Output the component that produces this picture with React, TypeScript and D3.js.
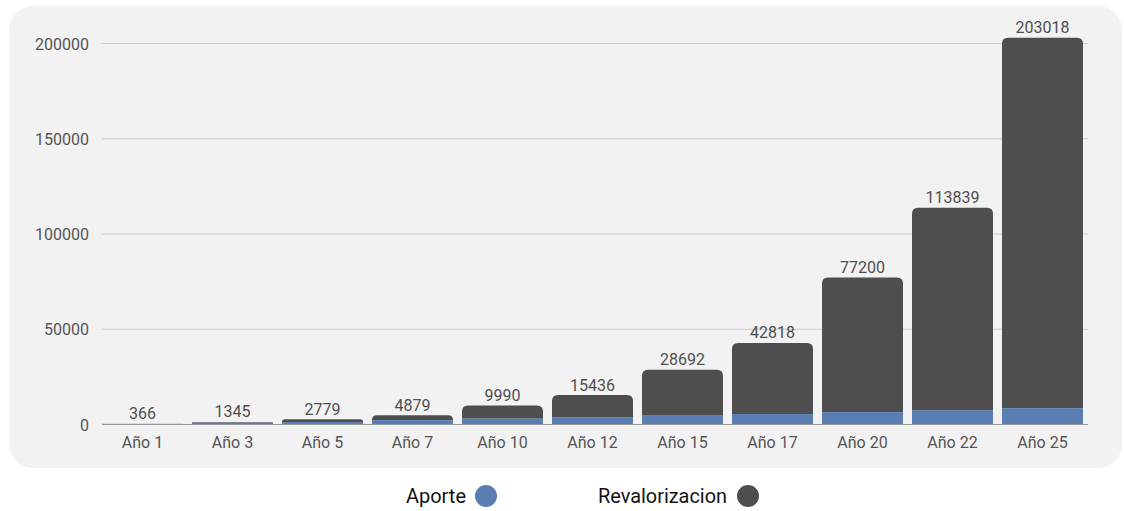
import React from "react";
import * as d3 from "d3";

const categories = ["Año 1", "Año 3", "Año 5", "Año 7", "Año 10", "Año 12", "Año 15", "Año 17", "Año 20", "Año 22", "Año 25"];
const totals = [366, 1345, 2779, 4879, 9990, 15436, 28692, 42818, 77200, 113839, 203018];
const aporte = [360, 1000, 1300, 2300, 3200, 3800, 4900, 5500, 6500, 7500, 8600];
const yTicks = [0, 50000, 100000, 150000, 200000];
const seriesNames = ["Aporte", "Revalorizacion"];
const colors = ["#5a7db2", "#4e4e4e"];

const W = 1124, H = 511;

export default function App() {
  const x = d3.scaleBand<string>().domain(categories).range([97.5, 1087.5]).paddingInner(0.1).paddingOuter(0.05);
  const y = d3.scaleLinear().domain([0, 200000]).range([424.5, 43.5]);
  const font = "Roboto, 'Noto Sans', sans-serif";
  const r = 6;

  const topPath = (x0: number, w: number, yTop: number, yBot: number) => {
    const h = yBot - yTop;
    const rr = Math.max(0, Math.min(r, h, w / 2));
    return `M${x0},${yBot}V${yTop + rr}Q${x0},${yTop} ${x0 + rr},${yTop}H${x0 + w - rr}Q${x0 + w},${yTop} ${x0 + w},${yTop + rr}V${yBot}Z`;
  };

  return (
    <svg width={W} height={H} style={{ position: "absolute", left: 0, top: 0 }} fontFamily={font}>
      <rect x={0} y={0} width={W} height={H} fill="#ffffff" />
      <rect x={9} y={6} width={1113} height={462} rx={24} fill="#f2f2f2" />
      {yTicks.map((t) => (
        <g key={t}>
          {t !== 0 && <line x1={102} x2={1088} y1={y(t)} y2={y(t)} stroke="#cccccc" strokeWidth={1} />}
          <text x={89} y={y(t) + 6} textAnchor="end" fontSize={16} fill="#555555">{t}</text>
        </g>
      ))}
      {categories.map((c, i) => {
        const x0 = x(c)!;
        const w = x.bandwidth();
        const yA = y(aporte[i]);
        const yT = y(totals[i]);
        return (
          <g key={c}>
            <rect x={x0} y={yA} width={w} height={y(0) - yA} fill={colors[0]} />
            <path d={topPath(x0, w, yT, yA)} fill={colors[1]} />
            <text x={x0 + w / 2} y={yT - 4.5} textAnchor="middle" fontSize={16} fill="#4f4f4f">{totals[i]}</text>
            <text x={x0 + w / 2} y={448} textAnchor="middle" fontSize={16} fill="#555555">{c}</text>
          </g>
        );
      })}
      <line x1={102} x2={1088} y1={y(0)} y2={y(0)} stroke="#999999" strokeWidth={1} />
      <g>
        <text x={466} y={503} textAnchor="end" fontSize={20} fill="#111111" textLength={60} lengthAdjust="spacingAndGlyphs">{seriesNames[0]}</text>
        <circle cx={486} cy={496} r={11} fill={colors[0]} />
        <text x={727} y={503} textAnchor="end" fontSize={20} fill="#111111" textLength={129} lengthAdjust="spacingAndGlyphs">{seriesNames[1]}</text>
        <circle cx={748} cy={496} r={11} fill={colors[1]} />
      </g>
    </svg>
  );
}
